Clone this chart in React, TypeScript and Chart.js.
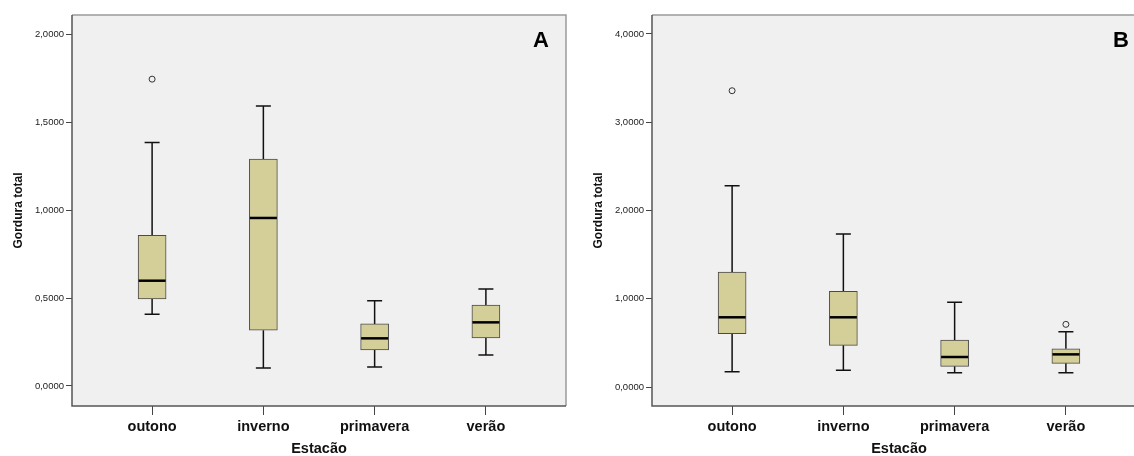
import React, { useEffect, useRef } from 'react';
import { Chart, registerables } from 'chart.js';

Chart.register(...registerables);

const categories = ['outono', 'inverno', 'primavera', 'verão'];

// Panel A
const minA = [0.408, 0.102, 0.108, 0.176];
const q1A = [0.495, 0.317, 0.205, 0.273];
const medA = [0.599, 0.956, 0.271, 0.362];
const q3A = [0.857, 1.291, 0.353, 0.461];
const maxA = [1.386, 1.593, 0.485, 0.552];
const outliersA = [[1.746], [], [], []];
const yTicksA = [0, 0.5, 1.0, 1.5, 2.0];

// Panel B
const minB = [0.174, 0.189, 0.162, 0.162];
const q1B = [0.604, 0.472, 0.234, 0.268];
const medB = [0.79, 0.79, 0.34, 0.37];
const q3B = [1.303, 1.084, 0.533, 0.434];
const maxB = [2.281, 1.734, 0.96, 0.627];
const outliersB = [[3.357], [], [], [0.71]];
const yTicksB = [0, 1, 2, 3, 4];

const FONT = "'Liberation Sans', Arial, sans-serif";

type Props = {
  mins: number[];
  q1: number[];
  med: number[];
  q3: number[];
  maxs: number[];
  outliers: number[][];
  yTicks: number[];
  yMin: number;
  yMax: number;
  letter: string;
  left: number;
};

function BoxChart(p: Props) {
  const ref = useRef<HTMLCanvasElement>(null);
  useEffect(() => {
    const plugin = {
      id: 'boxparts',
      beforeDraw(chart: any) {
        const { ctx, chartArea: a } = chart;
        ctx.save();
        ctx.fillStyle = '#f0f0f0';
        ctx.fillRect(a.left, a.top, a.right - a.left, a.bottom - a.top);
        ctx.restore();
      },
      beforeDatasetsDraw(chart: any) {
        const { ctx } = chart;
        const xs = chart.scales.x;
        const ys = chart.scales.y;
        ctx.save();
        ctx.strokeStyle = '#111';
        ctx.lineWidth = 1.5;
        categories.forEach((_, i) => {
          const x = xs.getPixelForValue(i);
          const yMinP = ys.getPixelForValue(p.mins[i]);
          const yQ1 = ys.getPixelForValue(p.q1[i]);
          const yQ3 = ys.getPixelForValue(p.q3[i]);
          const yMaxP = ys.getPixelForValue(p.maxs[i]);
          ctx.beginPath();
          ctx.moveTo(x, yMinP);
          ctx.lineTo(x, yQ1);
          ctx.moveTo(x, yQ3);
          ctx.lineTo(x, yMaxP);
          ctx.moveTo(x - 7.5, yMinP);
          ctx.lineTo(x + 7.5, yMinP);
          ctx.moveTo(x - 7.5, yMaxP);
          ctx.lineTo(x + 7.5, yMaxP);
          ctx.stroke();
        });
        ctx.restore();
      },
      afterDatasetsDraw(chart: any) {
        const { ctx } = chart;
        const xs = chart.scales.x;
        const ys = chart.scales.y;
        ctx.save();
        ctx.strokeStyle = '#000';
        ctx.lineWidth = 2.5;
        categories.forEach((_, i) => {
          const x = xs.getPixelForValue(i);
          const y = ys.getPixelForValue(p.med[i]);
          ctx.beginPath();
          ctx.moveTo(x - 13.5, y);
          ctx.lineTo(x + 13.5, y);
          ctx.stroke();
        });
        ctx.restore();
      },
      afterDraw(chart: any) {
        const { ctx, chartArea: a } = chart;
        ctx.save();
        ctx.strokeStyle = '#9a9a9a';
        ctx.lineWidth = 1.5;
        ctx.beginPath();
        ctx.moveTo(a.left, a.top);
        ctx.lineTo(a.right, a.top);
        ctx.lineTo(a.right, a.bottom);
        ctx.stroke();
        ctx.strokeStyle = '#555';
        ctx.beginPath();
        ctx.moveTo(a.left, a.top);
        ctx.lineTo(a.left, a.bottom);
        ctx.lineTo(a.right, a.bottom);
        ctx.stroke();
        ctx.fillStyle = '#000';
        ctx.font = `bold 22px ${FONT}`;
        ctx.textAlign = 'center';
        ctx.textBaseline = 'middle';
        ctx.fillText(p.letter, a.right - 25, 41);
        ctx.restore();
      },
    };

    const chart = new Chart(ref.current as HTMLCanvasElement, {
      type: 'bar',
      data: {
        datasets: [
          {
            type: 'bar',
            data: categories.map((_, i) => ({ x: i, y: [p.q1[i], p.q3[i]] })) as any,
            backgroundColor: '#d4cf99',
            borderColor: '#4a4a4a',
            borderWidth: 1,
            borderSkipped: false,
            barThickness: 28,
            grouped: false,
          } as any,
          {
            type: 'scatter',
            data: p.outliers.flatMap((vals, i) => vals.map((v) => ({ x: i, y: v }))) as any,
            pointStyle: 'circle',
            pointRadius: 3,
            pointBorderWidth: 1,
            borderColor: '#333',
            backgroundColor: 'rgba(0,0,0,0)',
          } as any,
        ],
      },
      options: {
        responsive: false,
        animation: false,
        layout: { padding: { top: 15, right: 14, bottom: 0, left: 0 } },
        plugins: { legend: { display: false }, tooltip: { enabled: false } },
        scales: {
          x: {
            type: 'linear',
            min: -0.72,
            max: 3.72,
            offset: false,
            afterBuildTicks: (s: any) => {
              s.ticks = categories.map((_, i) => ({ value: i }));
            },
            afterFit: (s: any) => {
              s.height = 50;
            },
            grid: { offset: false, drawOnChartArea: false, drawTicks: true, tickLength: 9, color: '#444', lineWidth: 1 },
            border: { display: false },
            ticks: {
              font: { family: FONT, size: 14.5, weight: 'bold' },
              color: '#111',
              padding: 3,
              maxRotation: 0,
              autoSkip: false,
              callback: (v: any) => categories[Math.round(Number(v))] ?? '',
            },
            title: {
              display: true,
              text: 'Estacão',
              color: '#111',
              font: { family: FONT, size: 14.5, weight: 'bold', lineHeight: 1 },
              padding: { top: 0, bottom: 0 },
            },
          },
          y: {
            min: p.yMin,
            max: p.yMax,
            afterBuildTicks: (s: any) => {
              s.ticks = p.yTicks.map((v) => ({ value: v }));
            },
            afterFit: (s: any) => {
              s.width = 72;
            },
            grid: { drawOnChartArea: false, drawTicks: true, tickLength: 6, color: '#444', lineWidth: 1 },
            border: { display: false },
            ticks: {
              font: { family: FONT, size: 9.5 },
              color: '#222',
              padding: 2,
              callback: (v: any) => Number(v).toFixed(4).replace('.', ','),
            },
            title: {
              display: true,
              text: 'Gordura total',
              color: '#111',
              font: { family: FONT, size: 12, weight: 'bold', lineHeight: 1.2 },
              padding: { top: 11, bottom: 0 },
            },
          },
        },
      } as any,
      plugins: [plugin],
    });
    return () => chart.destroy();
  }, []);
  return (
    <canvas
      ref={ref}
      width={580}
      height={456}
      style={{ position: 'absolute', left: p.left, top: 0, width: 580, height: 456 }}
    />
  );
}

export default function App() {
  return (
    <div
      style={{
        position: 'fixed',
        left: 0,
        top: 0,
        width: 1134,
        height: 456,
        overflow: 'hidden',
        background: '#fff',
      }}
    >
      <BoxChart
        mins={minA}
        q1={q1A}
        med={medA}
        q3={q3A}
        maxs={maxA}
        outliers={outliersA}
        yTicks={yTicksA}
        yMin={-0.114}
        yMax={2.111}
        letter="A"
        left={0}
      />
      <BoxChart
        mins={minB}
        q1={q1B}
        med={medB}
        q3={q3B}
        maxs={maxB}
        outliers={outliersB}
        yTicks={yTicksB}
        yMin={-0.215}
        yMax={4.215}
        letter="B"
        left={580}
      />
    </div>
  );
}
